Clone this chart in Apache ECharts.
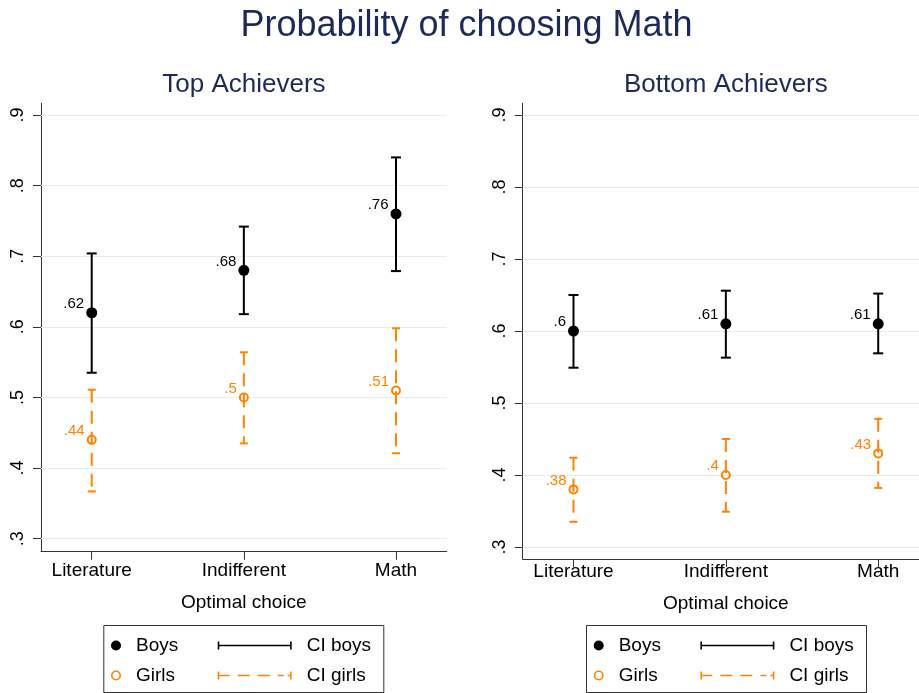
<!DOCTYPE html>
<html>
<head>
<meta charset="utf-8">
<script src="https://cdn.jsdelivr.net/npm/echarts@6/dist/echarts.min.js"></script>
<style>
html, body { margin: 0; padding: 0; background: #fff; }
#chart { width: 919px; height: 693px; }
</style>
</head>
<body>
<div id="chart"></div>
<script>
// Categories and tick values
const categories = ['Literature', 'Indifferent', 'Math'];
const categoryX = [1, 2, 3];
const yTicks = [0.3, 0.4, 0.5, 0.6, 0.7, 0.8, 0.9];

// Top achievers: point estimates and confidence bounds
const topBoys      = [0.62, 0.68, 0.76];
const topBoysLow   = [0.535, 0.618, 0.679];
const topBoysHigh  = [0.704, 0.742, 0.840];
const topGirls     = [0.44, 0.50, 0.51];
const topGirlsLow  = [0.367, 0.435, 0.421];
const topGirlsHigh = [0.511, 0.564, 0.598];

// Bottom achievers: point estimates and confidence bounds
const botBoys      = [0.60, 0.61, 0.61];
const botBoysLow   = [0.549, 0.563, 0.569];
const botBoysHigh  = [0.650, 0.656, 0.652];
const botGirls     = [0.38, 0.40, 0.43];
const botGirlsLow  = [0.335, 0.349, 0.382];
const botGirlsHigh = [0.424, 0.450, 0.478];

// Axis ranges
const xRange = [2 / 3, 10 / 3];
const yRangeTop = [0.2816, 0.9166];
const yRangeBottom = [0.2833, 0.9163];

const FONT = '"Liberation Sans", Arial, Helvetica, sans-serif';
const NAVY = '#1c2a55';
const ORANGE = '#ff8300';
const AXIS = '#333333';
const GRID = '#e4edf0';

// Drop the leading zero: 0.62 -> ".62"
const shortNum = v => String(+v.toFixed(2)).replace(/^0(?=\.)/, '');

function ciRenderer(capHalf, dash) {
  return function (params, api) {
    const x = api.value(0);
    const hi = api.coord([x, api.value(2)]);
    const lo = api.coord([x, api.value(1)]);
    const color = api.visual('color');
    const solid = { stroke: color, lineWidth: 2 };
    const stem = { stroke: color, lineWidth: 2, lineDash: dash || null };
    return {
      type: 'group',
      children: [
        { type: 'line', shape: { x1: hi[0], y1: hi[1], x2: lo[0], y2: lo[1] }, style: stem },
        { type: 'line', shape: { x1: hi[0] - capHalf, y1: hi[1], x2: hi[0] + capHalf, y2: hi[1] }, style: solid },
        { type: 'line', shape: { x1: lo[0] - capHalf, y1: lo[1], x2: lo[0] + capHalf, y2: lo[1] }, style: solid }
      ]
    };
  };
}

function pointLabel(color) {
  return {
    show: true, position: 'left', distance: 2, offset: [0, -9],
    color: color, fontSize: 15, fontFamily: FONT,
    formatter: p => shortNum(p.value[1])
  };
}

function panelSeries(idx, boys, boysLow, boysHigh, girls, girlsLow, girlsHigh) {
  return [
    {
      // horizontal grid lines
      type: 'line', name: 'grid' + idx, xAxisIndex: idx, yAxisIndex: idx, data: [],
      silent: true, z: 1,
      markLine: {
        silent: true, symbol: ['none', 'none'], z: 1, animation: false,
        label: { show: false },
        lineStyle: { color: GRID, width: 1.2, type: 'solid' },
        emphasis: { disabled: true },
        data: yTicks.map(v => ({ yAxis: v }))
      }
    },
    {
      type: 'custom', name: 'CI boys', xAxisIndex: idx, yAxisIndex: idx, z: 3,
      itemStyle: { color: '#000' },
      renderItem: ciRenderer(5, null),
      data: categoryX.map((x, i) => [x, boysLow[i], boysHigh[i]])
    },
    {
      type: 'custom', name: 'CI girls', xAxisIndex: idx, yAxisIndex: idx, z: 3,
      itemStyle: { color: ORANGE },
      renderItem: ciRenderer(4, [13, 8]),
      data: categoryX.map((x, i) => [x, girlsLow[i], girlsHigh[i]])
    },
    {
      type: 'scatter', name: 'Boys', xAxisIndex: idx, yAxisIndex: idx, z: 4,
      symbol: 'circle', symbolSize: 11,
      itemStyle: { color: '#000', opacity: 1 },
      label: pointLabel('#000'),
      data: categoryX.map((x, i) => [x, boys[i]])
    },
    {
      type: 'scatter', name: 'Girls', xAxisIndex: idx, yAxisIndex: idx, z: 4,
      symbol: 'circle', symbolSize: 8,
      itemStyle: { color: 'rgba(0,0,0,0)', borderColor: ORANGE, borderWidth: 2, opacity: 1 },
      label: pointLabel(ORANGE),
      data: categoryX.map((x, i) => [x, girls[i]])
    }
  ];
}

function xAxisFor(idx, margin, nameGap) {
  return {
    type: 'value', gridIndex: idx, min: xRange[0], max: xRange[1],
    name: 'Optimal choice', nameLocation: 'middle', nameGap: nameGap,
    nameTextStyle: { fontSize: 19, color: '#000', fontFamily: FONT },
    axisLine: { show: true, onZero: false, lineStyle: { color: AXIS, width: 1 } },
    axisTick: { show: true, length: 8, customValues: categoryX, lineStyle: { color: AXIS } },
    axisLabel: {
      customValues: categoryX, margin: margin, fontSize: 19, color: '#000', fontFamily: FONT,
      formatter: v => categories[Math.round(v) - 1]
    },
    splitLine: { show: false }
  };
}

function yAxisFor(idx, range) {
  return {
    type: 'value', gridIndex: idx, min: range[0], max: range[1],
    axisLine: { show: true, onZero: false, lineStyle: { color: AXIS, width: 1 } },
    axisTick: { show: true, length: 8, customValues: yTicks, lineStyle: { color: AXIS } },
    axisLabel: {
      customValues: yTicks, rotate: 90, margin: 14, fontSize: 18, color: '#000', fontFamily: FONT,
      formatter: v => shortNum(v)
    },
    splitLine: { show: false }
  };
}

const CI_SOLID = 'path://M0,0H1.6V8H0Z M0,3.2H74V4.8H0Z M72.4,0H74V8H72.4Z';
const CI_DASH = 'path://M0,0H1.6V8H0Z M0,3.2H12V4.8H0Z M20,3.2H32V4.8H20Z M40,3.2H52V4.8H40Z M60,3.2H66V4.8H60Z M70,3.2H74V4.8H70Z M72.4,0H74V8H72.4Z';
const RING = 'path://M5,0A5,5 0 1,1 5,10A5,5 0 1,1 5,0Z M5,1.6A3.4,3.4 0 1,0 5,8.4A3.4,3.4 0 1,0 5,1.6Z';

const legendText = { fontSize: 19, color: '#000', fontFamily: FONT, lineHeight: 20, padding: [0, 0, 0, 10] };

function panelLegends(boxLeft, boxTop) {
  return [
    {
      left: boxLeft + 7.7, top: boxTop + 10.5, orient: 'vertical', padding: 0,
      itemWidth: 10, itemHeight: 10, itemGap: 10, selectedMode: false,
      textStyle: legendText,
      data: [
        { name: 'Boys', icon: 'circle', itemStyle: { color: '#000', borderWidth: 0, opacity: 1 } },
        { name: 'Girls', icon: RING, itemStyle: { color: ORANGE, borderWidth: 0, opacity: 1 } }
      ]
    },
    {
      left: boxLeft + 114.4, top: boxTop + 10.5, orient: 'vertical', padding: 0,
      itemWidth: 74, itemHeight: 8, itemGap: 10, selectedMode: false,
      textStyle: legendText,
      data: [
        { name: 'CI boys', icon: CI_SOLID, itemStyle: { color: '#000', borderWidth: 0 } },
        { name: 'CI girls', icon: CI_DASH, itemStyle: { color: ORANGE, borderWidth: 0 } }
      ]
    }
  ];
}

const legendBoxes = [[103.3, 625], [586, 625]];

const chart = echarts.init(document.getElementById('chart'), null, { renderer: 'canvas' });

chart.setOption({
  backgroundColor: '#fff',
  animation: false,
  title: [
    { text: 'Probability of choosing Math', left: 466.5, textAlign: 'center', top: 8, padding: 0,
      textStyle: { fontSize: 36, fontWeight: 'normal', color: NAVY, fontFamily: FONT } },
    { text: 'Top Achievers', left: 243.9, textAlign: 'center', top: 72, padding: 0,
      textStyle: { fontSize: 26, fontWeight: 'normal', color: NAVY, fontFamily: FONT } },
    { text: 'Bottom Achievers', left: 725.9, textAlign: 'center', top: 72, padding: 0,
      textStyle: { fontSize: 26, fontWeight: 'normal', color: NAVY, fontFamily: FONT } }
  ],
  grid: [
    { left: 41, top: 103.3, width: 405.7, height: 448.4, outerBoundsMode: 'none', containLabel: false },
    { left: 522.7, top: 103.3, width: 406.3, height: 455.7, outerBoundsMode: 'none', containLabel: false }
  ],
  xAxis: [xAxisFor(0, 10, 42), xAxisFor(1, 3, 35)],
  yAxis: [yAxisFor(0, yRangeTop), yAxisFor(1, yRangeBottom)],
  legend: panelLegends(legendBoxes[0][0], legendBoxes[0][1]).concat(
          panelLegends(legendBoxes[1][0], legendBoxes[1][1])),
  graphic: legendBoxes.map(([l, t]) => ({
    type: 'rect', left: l, top: t, silent: true, z: 0,
    shape: { width: 280, height: 67 },
    style: { fill: '#fff', stroke: AXIS, lineWidth: 1 }
  })),
  series: panelSeries(0, topBoys, topBoysLow, topBoysHigh, topGirls, topGirlsLow, topGirlsHigh)
    .concat(panelSeries(1, botBoys, botBoysLow, botBoysHigh, botGirls, botGirlsLow, botGirlsHigh))
});
</script>
</body>
</html>
